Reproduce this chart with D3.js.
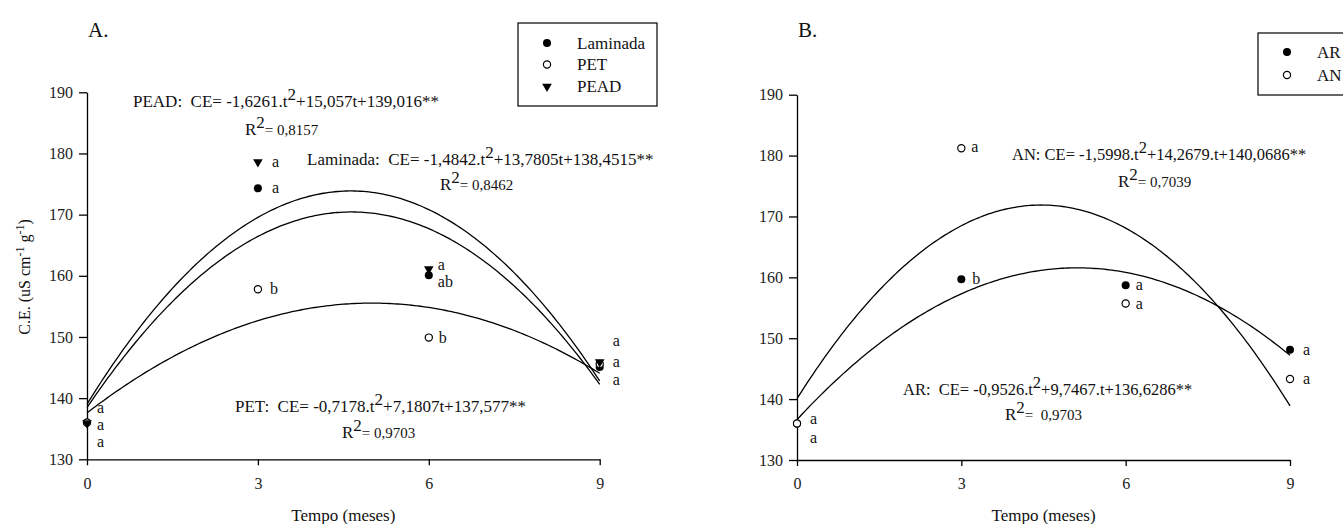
<!DOCTYPE html>
<html>
<head>
<meta charset="utf-8">
<script src="https://cdn.jsdelivr.net/npm/d3@7"></script>
<style>
  body { margin: 0; background: #fff; }
  svg text { font-family: 'Liberation Serif', 'DejaVu Serif', serif; white-space: pre; }
  .axis path, .axis line { stroke: #000; stroke-width: 1.3; }
  .axis text { font-size: 16px; fill: #222; }
</style>
</head>
<body>
<svg width="1343" height="524"></svg>
<script>
// ---- data ----
var tempo = [0, 3, 6, 9];
var yTicks = [130, 140, 150, 160, 170, 180, 190];
var xTicks = [0, 3, 6, 9];
var FONT = "'Liberation Serif', 'DejaVu Serif', serif";

// panel A
var laminada = [136.0, 174.3, 160.1, 145.1];
var pet = [136.0, 157.8, 149.9, 145.6];
var pead = [136.0, 178.7, 161.2, 146.0];
var letrasLaminada = ['a', 'a', 'ab', 'a'];
var letrasPet = ['a', 'b', 'b', 'a'];
var letrasPead = ['a', 'a', 'a', 'a'];
// coefficients [t^2, t, c]
var coefLaminada = [-1.4842, 13.7805, 138.4515];
var coefPet = [-0.7178, 7.1807, 137.577];
var coefPead = [-1.6261, 15.057, 139.016];

// panel B
var ar = [136.0, 159.7, 158.7, 148.1];
var an = [136.0, 181.2, 155.7, 143.3];
var letrasAr = ['a', 'b', 'a', 'a'];
var letrasAn = ['a', 'a', 'a', 'a'];
var coefAr = [-0.9526, 9.7467, 136.6286];
var coefAn = [-1.5998, 14.2679, 140.0686];

var svg = d3.select('svg');

function quad(c) { return function(t) { return c[0] * t * t + c[1] * t + c[2]; }; }

function marker(g, type, x, y) {
  if (type == 'filled') {
    g.append('circle').attr('cx', x).attr('cy', y).attr('r', 4).attr('fill', '#000');
  } else if (type == 'open') {
    g.append('circle').attr('cx', x).attr('cy', y).attr('r', 3.6)
      .attr('fill', '#fff').attr('stroke', '#000').attr('stroke-width', 1.2);
  } else {
    g.append('path').attr('d', d3.symbol().type(d3.symbolTriangle).size(40)())
      .attr('transform', 'translate(' + x + ',' + (y + 0.5) + ') rotate(180)')
      .attr('fill', '#000');
  }
}

// text with superscripts: parts = [[text, 'supbig'|'small'|null], ...]
function richText(g, x, y, parts, size) {
  var t = g.append('text').attr('x', x).attr('y', y)
    .attr('font-family', FONT).attr('font-size', size).attr('fill', '#111');
  var shift = 0;
  parts.forEach(function(p) {
    var s = t.append('tspan').text(p[0]);
    var want = 0;
    if (p[1] == 'supbig') { want = -7; }
    if (p[1] == 'small') { s.attr('font-size', size * 0.88); }
    if (want != shift) { s.attr('dy', want - shift); shift = want; }
  });
  return t;
}

function drawPanel(p) {
  var g = svg.append('g');
  var x = d3.scaleLinear().domain([0, 9]).range(p.xr);
  var y = d3.scaleLinear().domain([130, 190]).range(p.yr);

  g.append('g').attr('class', 'axis')
    .attr('transform', 'translate(0,' + p.yr[0] + ')')
    .call(d3.axisBottom(x).tickValues(xTicks).tickSize(6).tickSizeOuter(0).tickPadding(12));
  g.append('g').attr('class', 'axis')
    .attr('transform', 'translate(' + p.xr[0] + ',0)')
    .call(d3.axisLeft(y).tickValues(yTicks).tickSize(8).tickSizeOuter(0).tickPadding(6));
  g.selectAll('.axis').attr('font-family', FONT).attr('font-size', 16.5);

  // fitted curves
  var ts = d3.range(0, 9.001, 0.05);
  p.series.forEach(function(s) {
    var f = quad(s.coef);
    g.append('path')
      .attr('d', d3.line().x(function(t) { return x(t); }).y(function(t) { return y(f(t)); })(ts))
      .attr('fill', 'none').attr('stroke', '#000').attr('stroke-width', 1.3);
  });

  // points + letters
  p.series.forEach(function(s) {
    tempo.forEach(function(t, i) {
      marker(g, s.type, x(t), y(s.values[i]));
      var off = s.off[i];
      g.append('text').attr('x', x(t) + off[0]).attr('y', y(s.values[i]) + off[1])
        .attr('dy', '0.32em').attr('font-family', FONT).attr('font-size', 16).attr('fill', '#111')
        .text(s.letters[i]);
    });
  });

  // legend
  var lg = g.append('g');
  lg.append('rect').attr('x', p.legend.x).attr('y', p.legend.y)
    .attr('width', p.legend.w).attr('height', p.legend.h)
    .attr('fill', '#fff').attr('stroke', '#000').attr('stroke-width', 1.2);
  p.series.forEach(function(s, i) {
    var ly = p.legend.y + p.legend.row0 + i * p.legend.step;
    marker(lg, s.type, p.legend.x + 29, ly);
    lg.append('text').attr('x', p.legend.x + 59).attr('y', ly).attr('dy', '0.33em')
      .attr('font-family', FONT).attr('font-size', 17).attr('fill', '#111').text(s.name);
  });

  svg.append('text').attr('x', p.xr[0] + 1).attr('y', 37).attr('font-size', 21)
    .attr('font-family', FONT).attr('fill', '#111').text(p.title);
  svg.append('text').attr('x', (p.xr[0] + p.xr[1]) / 2).attr('y', 521)
    .attr('text-anchor', 'middle').attr('font-family', FONT).attr('font-size', 17).attr('fill', '#111')
    .text('Tempo (meses)');
  return g;
}

var gA = drawPanel({
  title: 'A.', xr: [87, 599.7], yr: [459.3, 92.3],
  legend: {x: 518, y: 23, w: 139, h: 83, row0: 20, step: 21.5},
  series: [
    {name: 'Laminada', type: 'filled', values: laminada, letters: letrasLaminada, coef: coefLaminada,
     off: [[10, 2], [14, 0], [9, 7], [13, -5]]},
    {name: 'PET', type: 'open', values: pet, letters: letrasPet, coef: coefPet,
     off: [[10, 19], [12, 0], [10, 0], [13, 16]]},
    {name: 'PEAD', type: 'triangle', values: pead, letters: letrasPead, coef: coefPead,
     off: [[10, -15], [14, 0], [9, -4], [13, -21]]}
  ]
});

var gB = drawPanel({
  title: 'B.', xr: [797, 1290], yr: [460, 94.7],
  legend: {x: 1258, y: 33, w: 100, h: 62, row0: 19, step: 23},
  series: [
    {name: 'AR', type: 'filled', values: ar, letters: letrasAr, coef: coefAr,
     off: [[13, 14], [11, 0], [10, 0], [13, 0]]},
    {name: 'AN', type: 'open', values: an, letters: letrasAn, coef: coefAn,
     off: [[13, -5], [10, -1], [10, 0], [13, 0]]}
  ]
});

// equations
richText(svg, 133, 107, [['PEAD:  CE= -1,6261.t'], ['2', 'supbig'], ['+15,057t+139,016**', null]], 17);
richText(svg, 245, 135, [['R'], ['2', 'supbig'], ['= 0,8157', 'small']], 17);
richText(svg, 307, 165, [['Laminada:  CE= -1,4842.t'], ['2', 'supbig'], ['+13,7805t+138,4515**', null]], 17);
richText(svg, 440, 190, [['R'], ['2', 'supbig'], ['= 0,8462', 'small']], 17);
richText(svg, 235, 412, [['PET:  CE= -0,7178.t'], ['2', 'supbig'], ['+7,1807t+137,577**', null]], 17);
richText(svg, 342, 438, [['R'], ['2', 'supbig'], ['= 0,9703', 'small']], 17);

richText(svg, 1012, 160, [['AN: CE= -1,5998.t'], ['2', 'supbig'], ['+14,2679.t+140,0686**', null]], 16.5);
richText(svg, 1118, 187, [['R'], ['2', 'supbig'], ['= 0,7039', 'small']], 17);
richText(svg, 903, 395, [['AR:  CE= -0,9526.t'], ['2', 'supbig'], ['+9,7467.t+136,6286**', null]], 16.5);
richText(svg, 1005, 420, [['R'], ['2', 'supbig'], ['=  0,9703', 'small']], 17);

// y axis title panel A
var yt = svg.append('text').attr('transform', 'translate(30,277) rotate(-90)')
  .attr('text-anchor', 'middle').attr('font-family', FONT).attr('font-size', 16).attr('fill', '#111');
yt.append('tspan').text('C.E. (uS cm');
yt.append('tspan').attr('dy', -6).attr('font-size', 12).text('-1');
yt.append('tspan').attr('dy', 6).text(' g');
yt.append('tspan').attr('dy', -6).attr('font-size', 12).text('-1');
yt.append('tspan').attr('dy', 6).text(')');
</script>
</body>
</html>
